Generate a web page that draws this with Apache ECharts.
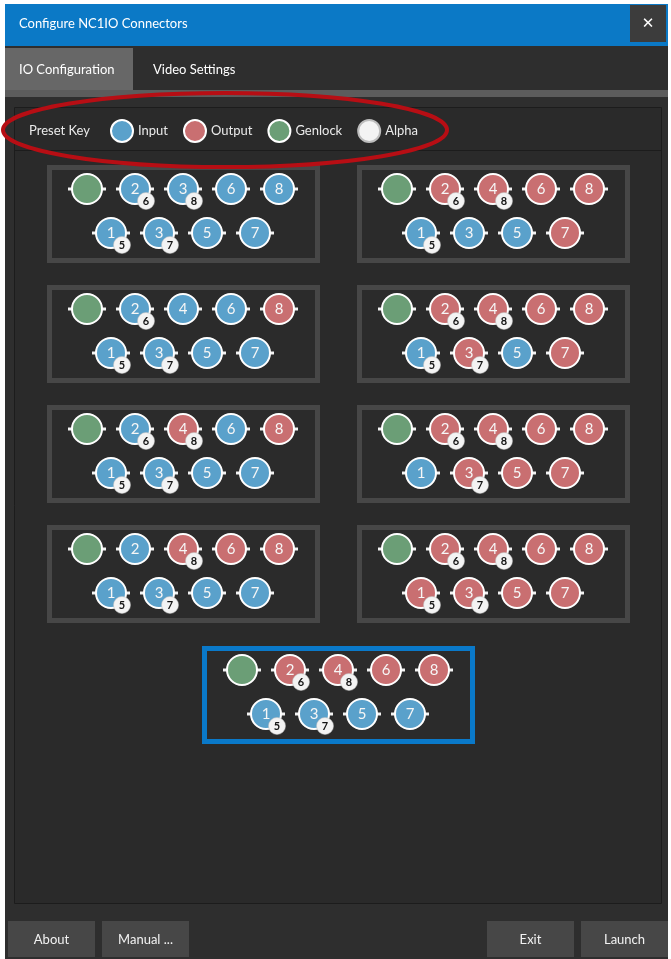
<!DOCTYPE html>
<html>
<head>
<meta charset="utf-8">
<title>Configure NC1IO Connectors</title>
<script src="https://cdn.jsdelivr.net/npm/echarts@6.0.0/dist/echarts.min.js"></script>
<style>
  html, body { margin: 0; padding: 0; background: #fff; }
  #main { width: 671px; height: 959px; }
</style>
</head>
<body>
<div id="main"></div>
<script>
// connector type for ports 1..8 of each preset (I = input, O = output)
const presetTypes = [
  'IIIIIIII', 'IOIOIOOO',
  'IIIIIIIO', 'IOOOIOOO',
  'IIIOIIIO', 'IOOOOOOO',
  'IIIOIOIO', 'OOOOOOOO',
  'IOIOIOIO'
];
// ports that carry an alpha channel in each preset
const presetAlpha = [
  [1, 2, 3, 4], [1, 2, 4],
  [1, 2, 3], [1, 2, 3, 4],
  [1, 2, 3, 4], [2, 3, 4],
  [1, 3, 4], [1, 2, 3, 4],
  [1, 2, 3, 4]
];
// alpha partner for a fill port
const alphaOf = { 1: 5, 2: 6, 3: 7, 4: 8 };
// printed labels (first preset shows "3" on port 4)
const presetLabels = [
  '12335678', '12345678',
  '12345678', '12345678',
  '12345678', '12345678',
  '12345678', '12345678',
  '12345678'
];
const selectedPreset = 8;
const legendNames = ['Input', 'Output', 'Genlock', 'Alpha'];

const COLORS = { Input: '#5aa1cb', Output: '#c96f71', Genlock: '#6b9e76', Alpha: '#f3f3f3' };
const FONT = 'Lato, "Noto Sans", sans-serif';

// box layout
const colX = [47, 357];
const rowY = [165, 285, 405, 525];
const boxW = 273, boxH = 98;
function boxPos(i) {
  if (i === selectedPreset) return [202, 646];
  return [colX[i % 2], rowY[Math.floor(i / 2)]];
}

const chart = echarts.init(document.getElementById('main'), null, { renderer: 'canvas' });

const grids = [], xAxes = [], yAxes = [], series = [];
const boxGraphics = [];

presetTypes.forEach((types, i) => {
  const [bx, by] = boxPos(i);
  grids.push({ left: bx + 40, top: by + 24, width: 192, height: 44, containLabel: false });
  xAxes.push({ gridIndex: i, type: 'value', min: 0, max: 8, show: false });
  yAxes.push({ gridIndex: i, type: 'value', min: 0, max: 1, inverse: true, show: false });

  const sel = i === selectedPreset;
  boxGraphics.push({
    type: 'rect', z: 0,
    shape: { x: bx + 2.5, y: by + 2.5, width: boxW - 5, height: boxH - 5 },
    style: { fill: '#2b2b2b', stroke: sel ? '#0a79c9' : '#474747', lineWidth: 5 }
  });

  const inputs = [], outputs = [], stubs = [[0, 0]];
  for (let p = 1; p <= 8; p++) {
    const pt = { value: [p, p % 2], name: presetLabels[i][p - 1] };
    (types[p - 1] === 'I' ? inputs : outputs).push(pt);
    stubs.push([p, p % 2]);
  }
  const alphas = presetAlpha[i].map(p => ({ value: [p, p % 2], name: String(alphaOf[p]) }));

  const base = {
    type: 'scatter', xAxisIndex: i, yAxisIndex: i, clip: false, silent: true,
    animation: false
  };
  const portLabel = {
    show: true, position: 'inside', formatter: '{b}',
    color: '#f6f6f6', fontSize: 15, fontFamily: FONT
  };
  series.push(Object.assign({}, base, {
    name: 'stub', z: 1, symbol: 'rect', symbolSize: [38, 3],
    itemStyle: { color: '#f2f2f2', opacity: 1 }, data: stubs
  }));
  series.push(Object.assign({}, base, {
    name: 'Genlock', z: 2, symbol: 'circle', symbolSize: 30,
    itemStyle: { color: COLORS.Genlock, borderColor: '#fff', borderWidth: 2, opacity: 1 },
    data: [[0, 0]]
  }));
  series.push(Object.assign({}, base, {
    name: 'Input', z: 2, symbol: 'circle', symbolSize: 30,
    itemStyle: { color: COLORS.Input, borderColor: '#fff', borderWidth: 2, opacity: 1 },
    label: portLabel, data: inputs
  }));
  series.push(Object.assign({}, base, {
    name: 'Output', z: 2, symbol: 'circle', symbolSize: 30,
    itemStyle: { color: COLORS.Output, borderColor: '#fff', borderWidth: 2, opacity: 1 },
    label: portLabel, data: outputs
  }));
  series.push(Object.assign({}, base, {
    name: 'Alpha', z: 3, symbol: 'circle', symbolSize: 17, symbolOffset: [11, 12],
    itemStyle: { color: COLORS.Alpha, borderColor: '#bdbdbd', borderWidth: 0.5, opacity: 1 },
    label: {
      show: true, position: 'inside', formatter: '{b}',
      color: '#141414', fontSize: 11, fontWeight: 'bold', fontFamily: FONT
    },
    data: alphas
  }));
});

function button(x, w, text) {
  return [
    { type: 'rect', z: 0, shape: { x: x, y: 921, width: w, height: 36 }, style: { fill: '#474747' } },
    { type: 'text', z: 1, x: x + w / 2, y: 940,
      style: { text: text, fill: '#f2f2f2', font: '13px ' + FONT, align: 'center', verticalAlign: 'middle' } }
  ];
}

const chrome = [
  // window body
  { type: 'rect', z: -5, shape: { x: 5, y: 4, width: 663, height: 955 }, style: { fill: '#2e2e2e' } },
  // title bar
  { type: 'rect', z: -4, shape: { x: 5, y: 4, width: 663, height: 42 }, style: { fill: '#0b79c6' } },
  { type: 'text', z: -3, x: 19, y: 24,
    style: { text: 'Configure NC1IO Connectors', fill: '#fff', font: '13px ' + FONT, verticalAlign: 'middle' } },
  { type: 'rect', z: -3, shape: { x: 630, y: 5, width: 36, height: 37 }, style: { fill: '#3c3c3c' } },
  { type: 'text', z: -2, x: 648, y: 24,
    style: { text: '✕', fill: '#fff', font: 'bold 15px "DejaVu Sans"', align: 'center', verticalAlign: 'middle' } },
  // tabs
  { type: 'rect', z: -4, shape: { x: 5, y: 48, width: 128, height: 44 }, style: { fill: '#676767' } },
  { type: 'rect', z: -4, shape: { x: 5, y: 90, width: 663, height: 7 }, style: { fill: '#5c5c5c' } },
  { type: 'text', z: -3, x: 19, y: 70,
    style: { text: 'IO Configuration', fill: '#fff', font: '13px ' + FONT, verticalAlign: 'middle' } },
  { type: 'text', z: -3, x: 153, y: 70,
    style: { text: 'Video Settings', fill: '#fff', font: '13px ' + FONT, verticalAlign: 'middle' } },
  // content panel
  { type: 'rect', z: -4, shape: { x: 14.5, y: 107.5, width: 647, height: 796 },
    style: { fill: '#2a2a2a', stroke: '#1c1c1c', lineWidth: 1 } },
  { type: 'line', z: -3, shape: { x1: 15, y1: 150.5, x2: 661, y2: 150.5 }, style: { stroke: '#1c1c1c', lineWidth: 1 } },
  { type: 'text', z: -3, x: 29, y: 131,
    style: { text: 'Preset Key', fill: '#eaeaea', font: '13px ' + FONT, verticalAlign: 'middle' } },
  // annotation ellipse
  { type: 'ellipse', z: 50, shape: { cx: 225, cy: 130, rx: 222, ry: 37 },
    style: { fill: null, stroke: '#b70e14', lineWidth: 4 } }
].concat(button(8, 87, 'About'), button(102, 87, 'Manual ...'),
         button(487, 87, 'Exit'), button(581, 87, 'Launch'));

const option = {
  backgroundColor: '#ffffff',
  animation: false,
  legend: {
    data: legendNames,
    left: 105, top: 114,
    icon: 'circle', itemWidth: 22, itemHeight: 22, itemGap: 15,
    selectedMode: false,
    itemStyle: { opacity: 1 },
    textStyle: { color: '#eaeaea', fontSize: 13, fontFamily: FONT }
  },
  grid: grids,
  xAxis: xAxes,
  yAxis: yAxes,
  graphic: { elements: chrome.concat(boxGraphics) },
  series: series
};

chart.setOption(option);
</script>
</body>
</html>
